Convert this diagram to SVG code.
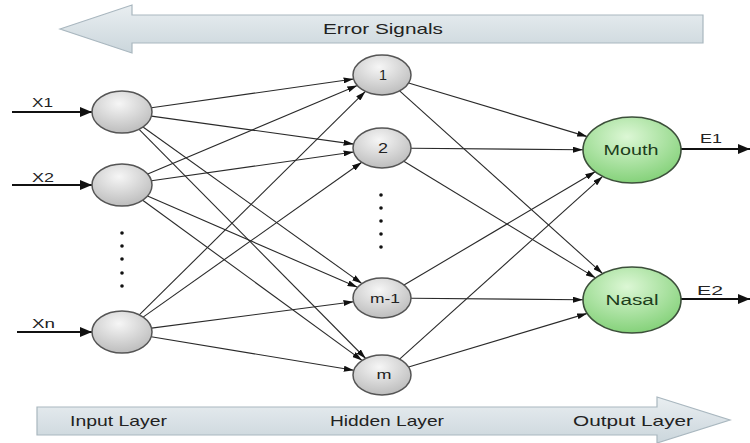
<svg xmlns="http://www.w3.org/2000/svg" width="750" height="443" viewBox="0 0 750 443">
<style>
.t{font-family:"Liberation Sans",Arial,sans-serif;fill:#222}
.band{fill:url(#bandG);stroke:#a9b7bf;stroke-width:1.2}
.hid{fill:url(#grayG);stroke:#555;stroke-width:1.5}
.out{fill:url(#greenG);stroke:#3c4f3a;stroke-width:1.6}
.c{stroke:#2a2a2a;stroke-width:1.1;fill:none;marker-end:url(#ah)}
.io{stroke:#111;stroke-width:2.2;fill:none;marker-end:url(#ahb)}
</style>
<defs>
<linearGradient id="bandG" x1="0" y1="0" x2="0" y2="1">
<stop offset="0" stop-color="#e9eef1"/><stop offset="1" stop-color="#cbd6dc"/>
</linearGradient>
<radialGradient id="grayG" cx="0.45" cy="0.3" r="0.75">
<stop offset="0" stop-color="#f6f6f6"/><stop offset="1" stop-color="#b9b9b9"/>
</radialGradient>
<radialGradient id="greenG" cx="0.45" cy="0.3" r="0.75">
<stop offset="0" stop-color="#dcf7d5"/><stop offset="1" stop-color="#7fcf74"/>
</radialGradient>
<marker id="ah" viewBox="0 0 10 6" refX="10" refY="3" markerWidth="10" markerHeight="6" markerUnits="userSpaceOnUse" orient="auto">
<path d="M0,0 L10,3 L0,6 Z" fill="#111"/>
</marker>
<marker id="ahb" viewBox="0 0 12 10" refX="12" refY="5" markerWidth="12" markerHeight="10" markerUnits="userSpaceOnUse" orient="auto">
<path d="M0,0 L12,5 L0,10 Z" fill="#111"/>
</marker>
</defs>

<g id="error-signals">
<polygon class="band" points="60,29 132,5 132,15 703,15 703,43 132,43 132,53"/>
<text class="t" x="383" y="34" font-size="15" text-anchor="middle" textLength="120" lengthAdjust="spacingAndGlyphs">Error Signals</text>
</g>

<g id="layers-band">
<polygon class="band" points="37,407 657,407 657,397 730,420 657,443 657,435 37,435"/>
<text class="t" x="70" y="426" font-size="15" textLength="97" lengthAdjust="spacingAndGlyphs">Input Layer</text>
<text class="t" x="330" y="426" font-size="15" textLength="114" lengthAdjust="spacingAndGlyphs">Hidden Layer</text>
<text class="t" x="573" y="426" font-size="15" textLength="120" lengthAdjust="spacingAndGlyphs">Output Layer</text>
</g>

<g id="connectors">
<line class="io" x1="12" y1="112" x2="92" y2="112"/>
<line class="io" x1="12" y1="185" x2="92" y2="185"/>
<line class="io" x1="17" y1="332" x2="92" y2="332"/>
<line class="io" x1="681" y1="149" x2="750" y2="149"/>
<line class="io" x1="681" y1="299" x2="750" y2="299"/>

<line class="c" x1="151.4" y1="107.8" x2="353.6" y2="79.0"/>
<line class="c" x1="151.4" y1="116.1" x2="353.6" y2="144.1"/>
<line class="c" x1="143" y1="127" x2="361.9" y2="283.6"/>
<line class="c" x1="139.1" y1="129.3" x2="365.7" y2="358.5"/>
<line class="c" x1="147.7" y1="174.1" x2="357.3" y2="85.5"/>
<line class="c" x1="151.4" y1="180.8" x2="353.6" y2="152.0"/>
<line class="c" x1="147.5" y1="196.1" x2="357.5" y2="287.3"/>
<line class="c" x1="142.7" y1="200.2" x2="362.1" y2="360.4"/>
<line class="c" x1="139.3" y1="314.9" x2="365.4" y2="91.4"/>
<line class="c" x1="143.1" y1="317.1" x2="361.8" y2="162.3"/>
<line class="c" x1="151.5" y1="328.1" x2="353.5" y2="301.7"/>
<line class="c" x1="151.2" y1="336.8" x2="353.8" y2="370.3"/>

<line class="c" x1="408.6" y1="83.0" x2="587.2" y2="136.6"/>
<line class="c" x1="399.6" y1="90.9" x2="602.6" y2="273.6"/>
<line class="c" x1="411" y1="148.2" x2="583" y2="149.8"/>
<line class="c" x1="403.8" y1="161.2" x2="595.6" y2="277.9"/>
<line class="c" x1="404" y1="285" x2="595.2" y2="171.8"/>
<line class="c" x1="411" y1="298.2" x2="583" y2="299.8"/>
<line class="c" x1="399.6" y1="359.1" x2="602.6" y2="176.4"/>
<line class="c" x1="408.6" y1="367" x2="587.2" y2="313.4"/>
</g>

<g id="input-labels">
<text class="t" x="32" y="107" font-size="13" textLength="21" lengthAdjust="spacingAndGlyphs">X1</text>
<text class="t" x="32" y="182" font-size="13" textLength="22" lengthAdjust="spacingAndGlyphs">X2</text>
<text class="t" x="32" y="328" font-size="13" textLength="23" lengthAdjust="spacingAndGlyphs">Xn</text>
<text class="t" x="700" y="143" font-size="13" textLength="22" lengthAdjust="spacingAndGlyphs">E1</text>
<text class="t" x="697" y="295" font-size="13" textLength="26" lengthAdjust="spacingAndGlyphs">E2</text>
</g>

<g id="input-1"><ellipse class="hid" cx="122" cy="112" rx="30" ry="21"/></g>
<g id="input-2"><ellipse class="hid" cx="122" cy="185" rx="30" ry="21"/></g>
<g id="input-dots" fill="#111">
<circle cx="122" cy="233" r="1.8"/><circle cx="122" cy="246" r="1.8"/><circle cx="122" cy="259" r="1.8"/><circle cx="122" cy="273" r="1.8"/><circle cx="122" cy="286" r="1.8"/>
</g>
<g id="input-n"><ellipse class="hid" cx="122" cy="332" rx="30" ry="21"/></g>

<g id="hidden-1"><ellipse class="hid" cx="382" cy="75" rx="29" ry="20"/>
<text class="t" x="383" y="80" font-size="14" text-anchor="middle" textLength="8" lengthAdjust="spacingAndGlyphs">1</text></g>
<g id="hidden-2"><ellipse class="hid" cx="382" cy="148" rx="29" ry="20"/>
<text class="t" x="383" y="153" font-size="14" text-anchor="middle" textLength="10" lengthAdjust="spacingAndGlyphs">2</text></g>
<g id="hidden-dots" fill="#111">
<circle cx="381" cy="195" r="1.8"/><circle cx="381" cy="208" r="1.8"/><circle cx="381" cy="221" r="1.8"/><circle cx="381" cy="234" r="1.8"/><circle cx="381" cy="247" r="1.8"/>
</g>
<g id="hidden-m1"><ellipse class="hid" cx="382" cy="298" rx="29" ry="20"/>
<text class="t" x="385" y="303" font-size="13" text-anchor="middle" textLength="30" lengthAdjust="spacingAndGlyphs">m-1</text></g>
<g id="hidden-m"><ellipse class="hid" cx="382" cy="375" rx="29" ry="20"/>
<text class="t" x="384" y="379" font-size="13" text-anchor="middle" textLength="15" lengthAdjust="spacingAndGlyphs">m</text></g>

<g id="output-mouth"><ellipse class="out" cx="632" cy="150" rx="49" ry="33"/>
<text class="t" x="631" y="155" font-size="14" text-anchor="middle" textLength="55" lengthAdjust="spacingAndGlyphs" style="fill:#1d3d1b">Mouth</text></g>
<g id="output-nasal"><ellipse class="out" cx="632" cy="300" rx="49" ry="33"/>
<text class="t" x="632" y="305" font-size="14" text-anchor="middle" textLength="53" lengthAdjust="spacingAndGlyphs" style="fill:#1d3d1b">Nasal</text></g>
</svg>
